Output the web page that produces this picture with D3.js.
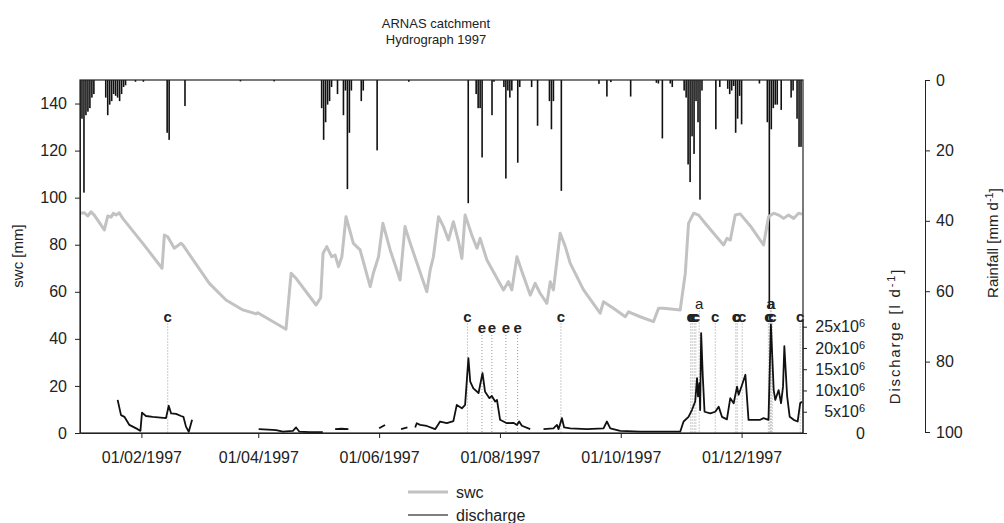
<!DOCTYPE html>
<html>
<head>
<meta charset="utf-8">
<title>ARNAS catchment - Hydrograph 1997</title>
<script src="https://cdn.jsdelivr.net/npm/d3@7"></script>
<style>
    body { margin: 0; background: #fff; }
    svg text { font-family: "Liberation Sans", Arial, sans-serif; fill: #222; }
    .axis path, .axis line { stroke: #222; }
    .axis text { font-size: 16px; fill: #222; }
</style>
</head>
<body>
<svg id="chart" width="1004" height="523"></svg>
<script>
/*
*/
// daily rainfall [mm d-1]
var rainDay = [0, 1, 2, 3, 4, 5, 6, 7, 13, 14, 15, 16, 17, 18, 19, 20, 21, 22, 23, 28, 32,
    44, 45, 53, 81, 98, 122, 123, 124, 125, 126, 127, 130, 133, 134, 135, 136, 137, 142, 143,
    150, 166, 196, 200, 201, 202, 203, 208, 209, 214, 215, 216, 217, 218, 221, 222, 228, 231,
    237, 238, 239, 243, 262, 266, 268, 278, 291, 292, 294, 298, 299, 305, 306, 307, 308, 309,
    310, 311, 312, 313, 314, 321, 323, 327, 328, 329, 330, 331, 332, 333, 334, 343, 347, 348,
    349, 350, 351, 352, 354, 359, 360, 362, 363, 364];
var rainMm = [28, 11, 32, 10, 9, 8, 5, 4, 5, 10, 7, 6, 4, 4.5, 5, 6, 4, 2, 1.5, 0.5, 0.5,
    15, 17, 7.4, 0.4, 0.4, 8, 17, 12, 7, 6, 2, 4, 10, 3, 31, 15, 3, 6, 3,
    20, 0.5, 35, 4, 8, 8, 22, 10, 0.5, 2, 28, 3, 5, 3, 23.5, 2, 2, 13,
    6, 14, 6, 31.5, 1.1, 4.7, 0.6, 4.7, 0.8, 1, 16.6, 1, 2, 3, 5, 24, 29, 16,
    21, 6, 12, 34, 3, 14, 2, 2.5, 4, 3, 1.7, 15, 11, 4.5, 12.6, 1, 12, 65,
    14, 8, 7, 7, 8.5, 5, 3, 11, 19, 19];

// soil water content [mm]
var swcDay = [0, 2.2, 3.9, 5.6, 7.2, 12.3, 14, 15.7, 16.8, 18.2, 19.8, 21.6, 31.7, 41.4, 42.6,
    44.3, 47.6, 51, 51.9, 65.3, 73.7, 82.2, 88.9, 89.7, 104, 106.6, 109.1, 119.2, 121.5, 122.7,
    124.6, 127.1, 128.8, 130.5, 132.2, 134.3, 138, 141.4, 146.5, 148.1, 150.7, 152.9, 156.6,
    161.6, 164.1, 166.7, 175.1, 176.8, 178.4, 181, 183.5, 186, 188.5, 191.1, 192.8, 194.4,
    197.8, 200.4, 202, 205.4, 213.8, 216.3, 218, 220.6, 223.1, 227.3, 229.8, 232.3, 235.7,
    237.4, 239, 242.4, 245, 247.5, 254.2, 262.6, 264.3, 269.3, 275.3, 276.9, 282.8, 289.5,
    292.1, 294.6, 303, 305.6, 307.2, 309.8, 312.3, 315.7, 320.7, 324.9, 326.6, 328.3, 330.8,
    333.3, 338.4, 345.1, 347.6, 350.2, 352.7, 355.2, 357.7, 360.3, 362.8, 364.5];
var swcMm = [93.4, 93.6, 92.2, 94, 92.6, 86.3, 92.2, 91.7, 93.4, 92.6, 93.6, 91.2, 80.6, 70, 84.1,
    83.4, 78.5, 80.6, 79.9, 63.6, 56.5, 52.3, 50.6, 51.1, 44.1, 67.9, 65.7, 54.4, 57.5, 76.4,
    79.2, 74.9, 75.6, 70.7, 74.9, 91.9, 80.6, 77.8, 62.2, 67.9, 74.9, 89.1, 77.8,
    65, 87.7, 80.6, 60, 69.3, 74.9, 91.9, 87.7, 82, 89.8, 81.3, 74.2, 92.6,
    84.1, 78.5, 82.7, 73.5, 60.8, 64.3, 60.8, 74.9, 68.6, 58.6, 63.6, 59.4, 55.1,
    64.3, 60.8, 84.9, 79.2, 72.1, 60.8, 50.9, 55.8, 53, 49.4, 51.5, 49.4, 47.3,
    53, 53, 52.3, 67.9, 89.1, 93.4, 92.6, 89, 84, 79.9, 82.7, 82, 92.6,
    93.1, 88, 79.9, 91.9, 93.4, 92.6, 91.2, 92.6, 91.2, 93.4, 93];

// discharge [x10^6 l d-1], null = no record
var qDay = [19, 20.7, 22.4, 24.9, 29.1, 30.5, 31.3, 33.3, 36.7, 43.4, 44.8, 46, 48.5, 51, 52.2,
    53.5, 54.9, 56.6, 57,
    90.2, 95, 99, 102.4, 107.5, 109.1, 110.8, 116, 122.6, 123,
    128.8, 132, 135.5, 136,
    151, 154, 154.5,
    162.1, 165.3, 166,
    169.2, 170, 171.7, 175.1, 179.3, 181.8, 185.2, 188.5, 190.2, 192.8, 194.4, 196.1, 197,
    198.6, 201.2, 203.2, 204.5, 206.7, 207.9, 209.6, 210.5, 212.1, 215.5, 218.8, 220.6, 221.7,
    223.1, 227.3, 228,
    234, 239, 240.8, 241.6, 243.3, 244.4, 247.5, 255.9, 264.3, 266, 267.7, 272.7, 282.8, 303,
    304.7, 307.2, 308.9, 310.6, 311.5, 312, 312.7, 313.1, 313.6, 314.4, 315.3, 318.2, 320.7,
    322.4, 324.1, 326.6, 328.3, 330, 331.7, 332.5, 334.2, 335.9, 337.5, 343.4, 345.1, 347.6,
    348.8, 350.2, 351, 352.7, 353.9, 354.9, 355.6, 357, 358.3, 360.3, 362.3, 363.6, 364.5];
var qMio = [7.8, 4.2, 3.8, 1.9, 0.9, 0.5, 4.8, 4, 3.8, 3.5, 6.4, 4.6, 4.5, 4, 3.8,
    1.5, 0.3, 3.1, null,
    0.9, 0.8, 0.7, 0.3, 0.5, 1.3, 0.3, 0.2, 0.2, null,
    0.9, 1, 0.9, null,
    1.1, 1.9, null,
    0.9, 1.3, null,
    1.3, 2.3, 1.9, 1.65, 0.9, 2.7, 2.3, 2.8, 6.6, 5.8, 6.6, 17.6, 12.1,
    10.5, 9.4, 14.1, 9.7, 8.2, 8.7, 7.4, 7.8, 3.1, 2.3, 2.4, 1.9, 2.7,
    1.7, 0.9, null,
    0.9, 1.1, 1.9, 0.9, 3.5, 1.3, 1.1, 0.9, 1.1, 2.7, 1.1, 0.5, 0.3, 0.3,
    2.7, 3.8, 5.4, 7.4, 12.9, 8.6, 11.7, 5.4, 23.5, 13.3, 5, 4.6, 5,
    6.2, 3.8, 3.2, 8.2, 7, 10.9, 9, 11.3, 13.7, 3.1, 3.1, 3.5, 3.1,
    25.5, 10.1, 7.8, 10.1, 7, 10.9, 20.4, 8.6, 3.8, 3.1, 2.7, 7, 7.4];

// event marks
var eventDay = [44.3, 195.6, 202.9, 207.9, 215, 220.9, 242.8, 308.3, 309.1, 310.1, 310.9, 312.6,
    320.7, 331.1, 331.8, 334.3, 347.5, 348.2, 348.5, 349, 349.5, 363.6];
var eventLabel = ["c", "c", "e", "e", "e", "e", "c", "c", "c", "c", "c", "a",
    "c", "c", "c", "c", "c", "c", "a", "a", "c", "c"];

// ticks
var dateTicks = ["1997-02-01", "1997-04-01", "1997-06-01", "1997-08-01", "1997-10-01", "1997-12-01"];
var swcTicks = [0, 20, 40, 60, 80, 100, 120, 140];
var rainTicks = [0, 20, 40, 60, 80, 100];
var qTicks = [0, 5, 10, 15, 20, 25];

/*
Layout
*/
var plot = { left: 80, right: 803, top: 80, bottom: 433 };
var svg = d3.select("#chart");
var start = new Date(1997, 0, 1);

function dayToDate(day) {
    return d3.timeHour.offset(start, Math.round(day * 24));
}

var x = d3.scaleTime().domain([start, new Date(1998, 0, 1)]).range([plot.left, plot.right]);
var ySwc = d3.scaleLinear().domain([0, 150]).range([plot.bottom, plot.top]);
var yRain = d3.scaleLinear().domain([0, 100]).range([plot.top, 432]);
var yQ = d3.scaleLinear().domain([0, 25]).range([plot.bottom, 326.7]);

svg.append("defs").append("clipPath").attr("id", "clip")
    .append("rect")
    .attr("x", plot.left).attr("y", plot.top)
    .attr("width", plot.right - plot.left).attr("height", plot.bottom - plot.top);

/* Title */
var title = svg.append("g").attr("text-anchor", "middle").style("font-size", "13px");
title.append("text").attr("x", 436).attr("y", 28).text("ARNAS catchment");
title.append("text").attr("x", 436).attr("y", 44).text("Hydrograph 1997");

var g = svg.append("g").attr("clip-path", "url(#clip)");

/* Rainfall bars hanging from the top */
g.append("g").selectAll("rect")
    .data(rainDay.map(function (d, i) { return { date: dayToDate(d), mm: rainMm[i] }; }))
    .enter().append("rect")
    .attr("x", function (d) { return x(d.date) - 0.8; })
    .attr("y", yRain(0))
    .attr("width", 1.6)
    .attr("height", function (d) { return yRain(d.mm) - yRain(0); })
    .attr("fill", "#111");

/* Soil water content */
var swcLine = d3.line()
    .x(function (d) { return x(d.date); })
    .y(function (d) { return ySwc(d.v); });
g.append("path")
    .datum(swcDay.map(function (d, i) { return { date: dayToDate(d), v: swcMm[i] }; }))
    .attr("d", swcLine)
    .attr("fill", "none")
    .attr("stroke", "#c2c2c2")
    .attr("stroke-width", 3)
    .attr("stroke-linejoin", "round");

/* Event marks: dotted drop lines and letters */
var labelLevel = { c: 49.5, e: 44.6, a: 55 };
var events = eventDay.map(function (d, i) { return { date: dayToDate(d), label: eventLabel[i] }; });
g.append("g").selectAll("line")
    .data(events)
    .enter().append("line")
    .attr("x1", function (d) { return x(d.date); })
    .attr("x2", function (d) { return x(d.date); })
    .attr("y1", function (d) { return ySwc(labelLevel[d.label]) + 7; })
    .attr("y2", plot.bottom)
    .attr("stroke", "#999")
    .attr("stroke-width", 1)
    .attr("stroke-dasharray", "1,2");

/* Discharge */
var qLine = d3.line()
    .defined(function (d) { return d.q !== null; })
    .x(function (d) { return x(d.date); })
    .y(function (d) { return yQ(d.q); });
g.append("path")
    .datum(qDay.map(function (d, i) { return { date: dayToDate(d), q: qMio[i] }; }))
    .attr("d", qLine)
    .attr("fill", "none")
    .attr("stroke", "#111")
    .attr("stroke-width", 1.8)
    .attr("stroke-linejoin", "round");

svg.append("g").selectAll("text")
    .data(events)
    .enter().append("text")
    .attr("x", function (d) { return x(d.date); })
    .attr("y", function (d) { return ySwc(labelLevel[d.label]); })
    .attr("dy", "0.35em")
    .attr("text-anchor", "middle")
    .style("font-size", "15px")
    .style("font-weight", function (d) { return d.label === "a" ? "normal" : "bold"; })
    .text(function (d) { return d.label; });

/* Frame */
svg.append("rect")
    .attr("x", plot.left).attr("y", plot.top)
    .attr("width", plot.right - plot.left).attr("height", plot.bottom - plot.top)
    .attr("fill", "none").attr("stroke", "#222").attr("stroke-width", 1.2);

/* Axes */
svg.append("g").attr("class", "axis")
    .attr("transform", "translate(" + plot.left + ",0)")
    .call(d3.axisLeft(ySwc).tickValues(swcTicks).tickSize(5).tickSizeOuter(0).tickPadding(8));

var parseDay = d3.timeParse("%Y-%m-%d");
svg.append("g").attr("class", "axis")
    .attr("transform", "translate(0," + plot.bottom + ")")
    .call(d3.axisBottom(x)
        .tickValues(dateTicks.map(parseDay))
        .tickFormat(d3.timeFormat("%d/%m/%Y"))
        .tickSize(5).tickSizeOuter(0).tickPadding(14));

var qAxis = svg.append("g").attr("class", "axis")
    .attr("transform", "translate(" + plot.right + ",0)")
    .call(d3.axisRight(yQ).tickValues(qTicks).tickSize(4).tickSizeOuter(0));
qAxis.select(".domain").attr("d", "M0," + yQ(0) + "V" + yQ(26.5));
qAxis.selectAll(".tick text")
    .attr("x", 62)
    .attr("text-anchor", "end")
    .each(function (d) {
        var t = d3.select(this).text("");
        if (d === 0) { t.text("0"); return; }
        t.append("tspan").text(d + "x10");
        t.append("tspan").attr("dy", "-0.45em").style("font-size", "11px").text("6");
    });

svg.append("g").attr("class", "axis")
    .attr("transform", "translate(925,0)")
    .call(d3.axisRight(yRain).tickValues(rainTicks).tickSize(5).tickSizeOuter(0).tickPadding(6));

/* Axis titles */
function axisTitle(cx, cy, main, sup, tail) {
    var t = svg.append("text")
        .attr("transform", "translate(" + cx + "," + cy + ") rotate(-90)")
        .attr("text-anchor", "middle")
        .attr("dy", "0.35em")
        .style("font-size", "15px");
    t.append("tspan").text(main);
    if (sup) {
        t.append("tspan").attr("dy", "-0.45em").style("font-size", "11px").text(sup);
        t.append("tspan").attr("dy", "0.45em").text(tail);
    }
    return t;
}
axisTitle(18, 256, "swc [mm]");
axisTitle(895, 336, "Discharge [l d", "-1", "]").style("letter-spacing", "1.8px");
axisTitle(993, 243, "Rainfall [mm d", "-1", "]");

/* Legend */
var legend = svg.append("g").style("font-size", "16px");
legend.append("line").attr("x1", 408).attr("x2", 448).attr("y1", 492).attr("y2", 492)
    .attr("stroke", "#c2c2c2").attr("stroke-width", 3);
legend.append("text").attr("x", 456).attr("y", 492).attr("dy", "0.35em").text("swc");
legend.append("line").attr("x1", 408).attr("x2", 448).attr("y1", 515).attr("y2", 515)
    .attr("stroke", "#555").attr("stroke-width", 1.5);
legend.append("text").attr("x", 456).attr("y", 515).attr("dy", "0.35em").text("discharge");
</script>
</body>
</html>
